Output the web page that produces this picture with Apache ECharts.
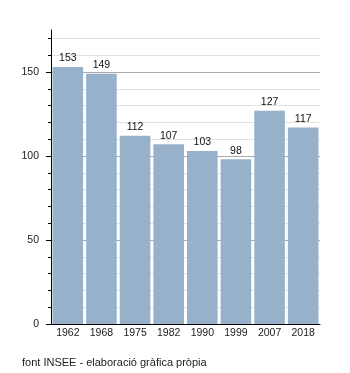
<!DOCTYPE html>
<html><head><meta charset="utf-8">
<script src="https://cdn.jsdelivr.net/npm/echarts@6/dist/echarts.min.js"></script>
<style>html,body{margin:0;padding:0;background:#fff}#c{width:350px;height:373px}</style>
</head><body><div id="c"></div>
<script>
const categories = ['1962','1968','1975','1982','1990','1999','2007','2018'];
const values = [153,149,112,107,103,98,127,117];
const yTicks = [0,50,100,150];
const sourceText = 'font INSEE - elaboració gràfica pròpia';

const chart = echarts.init(document.getElementById('c'), null, {renderer:'canvas'});
const font = '"Liberation Sans", Arial, sans-serif';
chart.setOption({
  animation:false,
  backgroundColor:'#fff',
  grid:{left:51,right:30,top:30,bottom:49,containLabel:false},
  graphic:[{type:'text',left:22,top:357,style:{text:sourceText,font:'11px '+font,fill:'#222'}}],
  xAxis:{type:'category',data:categories,
    axisLine:{lineStyle:{color:'#000',width:1}},
    axisTick:{show:false},
    axisLabel:{color:'#222',fontFamily:font,fontSize:10.5,margin:4},
    splitLine:{show:false}},
  yAxis:{type:'value',min:0,max:175,interval:50,
    axisLine:{show:true,lineStyle:{color:'#000',width:1}},
    axisTick:{show:true,length:5,customValues:yTicks,lineStyle:{color:'#000'}},
    minorTick:{show:true,splitNumber:5,length:3,lineStyle:{color:'#000'}},
    axisLabel:{color:'#222',fontFamily:font,fontSize:10.5,margin:12,customValues:yTicks},
    splitLine:{show:true,lineStyle:{color:['#aaa','#aaa','#aaa','#aaa','rgba(0,0,0,0)'],width:1}},
    minorSplitLine:{show:true,lineStyle:{color:'#e2e2e2',width:1}}},
  series:[{type:'bar',data:values,barCategoryGap:'9%',
    itemStyle:{color:'#98b1ca'},
    label:{show:true,position:'top',distance:3,color:'#111',fontFamily:font,fontSize:10.5}}]
});
</script></body></html>
